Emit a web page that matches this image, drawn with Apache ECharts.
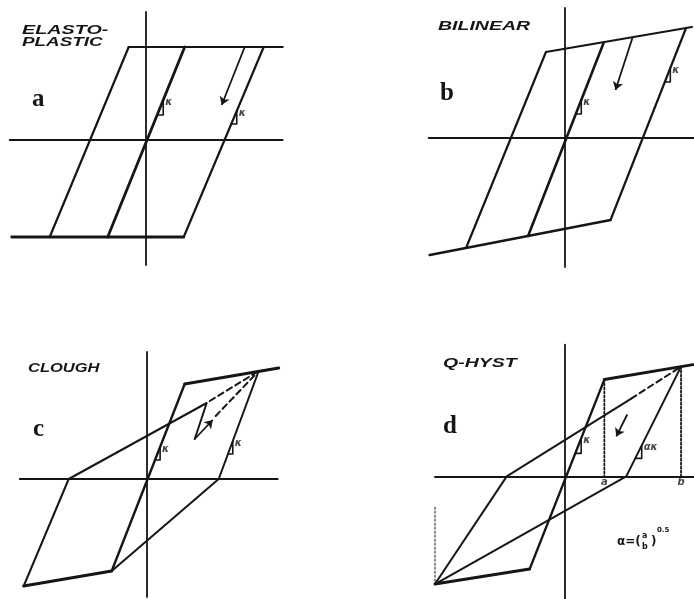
<!DOCTYPE html>
<html>
<head>
<meta charset="utf-8">
<script src="https://cdn.jsdelivr.net/npm/echarts@6/dist/echarts.min.js"></script>
<style>
  html, body { margin: 0; padding: 0; background: #ffffff; }
  #chart { width: 694px; height: 599px; }
</style>
</head>
<body>
<div id="chart"></div>
<script>
// Hysteresis rules for four restoring-force models.
// Each panel uses its own force–displacement plane (origin at the axis crossing).

// ---- a: elasto-plastic ----
const aTop         = [[-17, 93], [137, 93]];
const aBottom      = [[-134, -97], [38, -97]];
const aLeftBranch  = [[-96, -97], [-17, 93]];
const aRightBranch = [[38, -97], [118, 93]];
const aElastic     = [[-38, -97], [39, 93]];
const aUnload      = [[99, 93], [76, 35]];
const aMarks       = [[40, 15], [29, 13]];          // [y at top, height] of slope marks

// ---- b: bilinear ----
const bTop         = [[-19, 86], [128, 111]];
const bBottom      = [[-136, -117], [46, -82]];
const bLeftBranch  = [[-99, -109], [-19, 86]];
const bRightBranch = [[46, -82], [122, 110]];
const bElastic     = [[-37, -98], [39, 95]];
const bUnload      = [[68, 100], [51, 48]];
const bMarks       = [[38, 14], [70, 14]];

// ---- c: Clough ----
const cCap         = [[38, 95], [132, 111]];
const cElastic     = [[38, 95], [-35, -92]];
const cBase        = [[-35, -92], [-123, -107]];
const cReload      = [[-123, -107], [-78, 0], [60, 76], [48, 40]];
const cReturn      = [[48, 40], [66, 59]];
const cToPeak      = [[[63, 78], [112, 108]], [[69, 63], [112, 108]]];
const cUnloadUpper = [[112, 108], [72, 0]];
const cUnloadLower = [[72, 0], [-35, -92]];
const cMarks       = [[32, 13], [38, 13]];

// ---- d: Q-hyst ----
const dCap         = [[40, 97], [129, 112]];
const dElastic     = [[40, 97], [-35, -93]];
const dBase        = [[-35, -93], [-130, -108]];
const dReload      = [[-130, -108], [-58, 0], [67, 78]];
const dToPeak      = [[67, 78], [117, 110]];
const dUnloadUpper = [[117, 110], [62, 0]];
const dUnloadLower = [[62, 0], [-130, -108]];
const dUnload      = [[63, 62], [52, 40]];
const dDrops       = [[[40, 97], [40, 0]], [[117, 110], [117, 0]]];
const dLeftDrop    = [[-130, -31], [-130, -108]];
const dMarks       = [[38, 15], [31, 13]];
const dDispNames   = ['a', 'b'];

// ---- panel frames: axis crossing on the page and axis extents ----
const panels = [
  { ox: 145.7, oy: 140.0, x: [-136, 137], y: [-125, 128] },
  { ox: 565.7, oy: 138.0, x: [-137, 130], y: [-129, 130] },
  { ox: 146.7, oy: 479.0, x: [-127, 131], y: [-118, 127] },
  { ox: 565.0, oy: 476.7, x: [-130, 130], y: [-123, 132] }
];

const INK = '#161616';

const grid = panels.map(p => ({
  left: p.ox + p.x[0],
  top: p.oy - p.y[1],
  width: p.x[1] - p.x[0],
  height: p.y[1] - p.y[0],
  show: false
}));

const hiddenAxis = (gi, range) => ({
  type: 'value', gridIndex: gi, min: range[0], max: range[1],
  axisLine: { show: true, onZero: true, lineStyle: { color: INK, width: 1.8 } },
  axisTick: { show: false }, axisLabel: { show: false }, splitLine: { show: false }
});

const xAxis = panels.map((p, i) => hiddenAxis(i, p.x));
const yAxis = panels.map((p, i) => hiddenAxis(i, p.y));

// slope triangle hanging under a branch: vertical leg down from the branch, horizontal leg back to it
function slopeMark(seg, yTop, h) {
  const [[x1, y1], [x2, y2]] = seg;
  const xAt = y => x1 + (y - y1) * (x2 - x1) / (y2 - y1);
  const xt = xAt(yTop);
  return [[xt, yTop], [xt, yTop - h], [xAt(yTop - h), yTop - h]];
}

const series = [];

function strokes(gi, list, width, type) {
  series.push({
    type: 'lines', coordinateSystem: 'cartesian2d', xAxisIndex: gi, yAxisIndex: gi,
    polyline: true, silent: true, animation: false, clip: false,
    lineStyle: { color: INK, width: width, type: type || 'solid', opacity: 1, cap: 'round', join: 'round' },
    data: list.map(c => ({ coords: c }))
  });
}

// loading-direction arrows (straight two-point segments with a head at the end)
function arrows(gi, list) {
  series.push({
    type: 'lines', coordinateSystem: 'cartesian2d', xAxisIndex: gi, yAxisIndex: gi,
    polyline: false, silent: true, animation: false, clip: false,
    symbol: ['none', 'arrow'], symbolSize: 8,
    lineStyle: { color: INK, width: 1.8, opacity: 1 },
    data: list.map(c => ({ coords: c }))
  });
}

function marks(gi, branches, specs, names) {
  const tri = specs.map((s, i) => slopeMark(branches[i], s[0], s[1]));
  strokes(gi, tri, 1.6);
  series.push({
    type: 'scatter', xAxisIndex: gi, yAxisIndex: gi, symbolSize: 0, silent: true, animation: false,
    label: {
      show: true, position: 'right', distance: 2, color: INK,
      fontFamily: 'DejaVu Sans', fontStyle: 'italic', fontWeight: 'bold', fontSize: 10,
      formatter: d => d.name
    },
    data: tri.map((t, i) => ({ name: names[i], value: [t[0][0], t[0][1] - 2] }))
  });
}

// a
strokes(0, [aTop, aLeftBranch, aRightBranch], 2.2);
strokes(0, [aBottom, aElastic], 2.8);
arrows(0, [aUnload]);
marks(0, [aElastic, aRightBranch], aMarks, ['κ', 'κ']);

// b
strokes(1, [bTop, bLeftBranch, bRightBranch], 2.2);
strokes(1, [bBottom, bElastic], 2.6);
arrows(1, [bUnload]);
marks(1, [bElastic, bRightBranch], bMarks, ['κ', 'κ']);

// c
strokes(2, [cCap, cBase], 3);
strokes(2, [cElastic], 2.4);
strokes(2, [cReload, cUnloadUpper, cUnloadLower], 2);
arrows(2, [cReturn]);
strokes(2, cToPeak, 2, [6, 4]);
marks(2, [cElastic, cUnloadUpper], cMarks, ['κ', 'κ']);

// d
strokes(3, [dCap, dBase], 3);
strokes(3, [dElastic], 2.4);
strokes(3, [dReload, dUnloadUpper, dUnloadLower], 2);
strokes(3, [dToPeak], 2, [6, 4]);
strokes(3, dDrops, 1.8, [2, 2]);
strokes(3, [dLeftDrop], 1, [2, 2]);
arrows(3, [dUnload]);
marks(3, [dElastic, dUnloadUpper], dMarks, ['κ', 'ακ']);
series.push({
  type: 'scatter', xAxisIndex: 3, yAxisIndex: 3, symbolSize: 0, silent: true, animation: false,
  label: {
    show: true, position: 'bottom', distance: 1, color: INK,
    fontFamily: 'DejaVu Sans', fontStyle: 'italic', fontWeight: 'bold', fontSize: 10,
    formatter: d => d.name
  },
  data: dDispNames.map((n, i) => ({ name: n, value: [dDrops[i][1][0], 0] }))
});

// headings and panel letters
const headFont = 'italic bold 13px "Liberation Sans", Arial, sans-serif';
const letterFont = 'bold 25px "Liberation Serif", "Times New Roman", serif';
function txt(text, x, y, font, sx) {
  return {
    type: 'text', x: x, y: y, scaleX: sx || 1, silent: true,
    style: { text: text, font: font, fill: INK, textAlign: 'left', textVerticalAlign: 'middle', verticalAlign: 'middle' }
  };
}

const graphic = [
  txt('ELASTO-', 22, 30, headFont, 1.52),
  txt('PLASTIC', 22, 42.5, headFont, 1.45),
  txt('BILINEAR', 438, 26, headFont, 1.5),
  txt('CLOUGH', 28, 368, headFont, 1.27),
  txt('Q-HYST', 443, 363.5, headFont, 1.5),
  txt('a', 32, 100, letterFont),
  txt('b', 440, 94, letterFont),
  txt('c', 33, 430, letterFont),
  txt('d', 443, 427, letterFont),
  // alpha = (a / b)^0.5
  txt('α=(', 617, 542, 'bold 12px "DejaVu Sans", sans-serif'),
  txt('a', 642, 536, 'bold 8px "DejaVu Sans", sans-serif'),
  txt('b', 642, 547, 'bold 8px "DejaVu Sans", sans-serif'),
  txt(')', 651, 542, 'bold 12px "DejaVu Sans", sans-serif'),
  txt('0.5', 657, 530, 'bold 7px "DejaVu Sans", sans-serif')
];

const chart = echarts.init(document.getElementById('chart'), null, { renderer: 'canvas' });
chart.setOption({
  backgroundColor: '#ffffff',
  animation: false,
  grid: grid,
  xAxis: xAxis,
  yAxis: yAxis,
  series: series,
  graphic: graphic
});
</script>
</body>
</html>
